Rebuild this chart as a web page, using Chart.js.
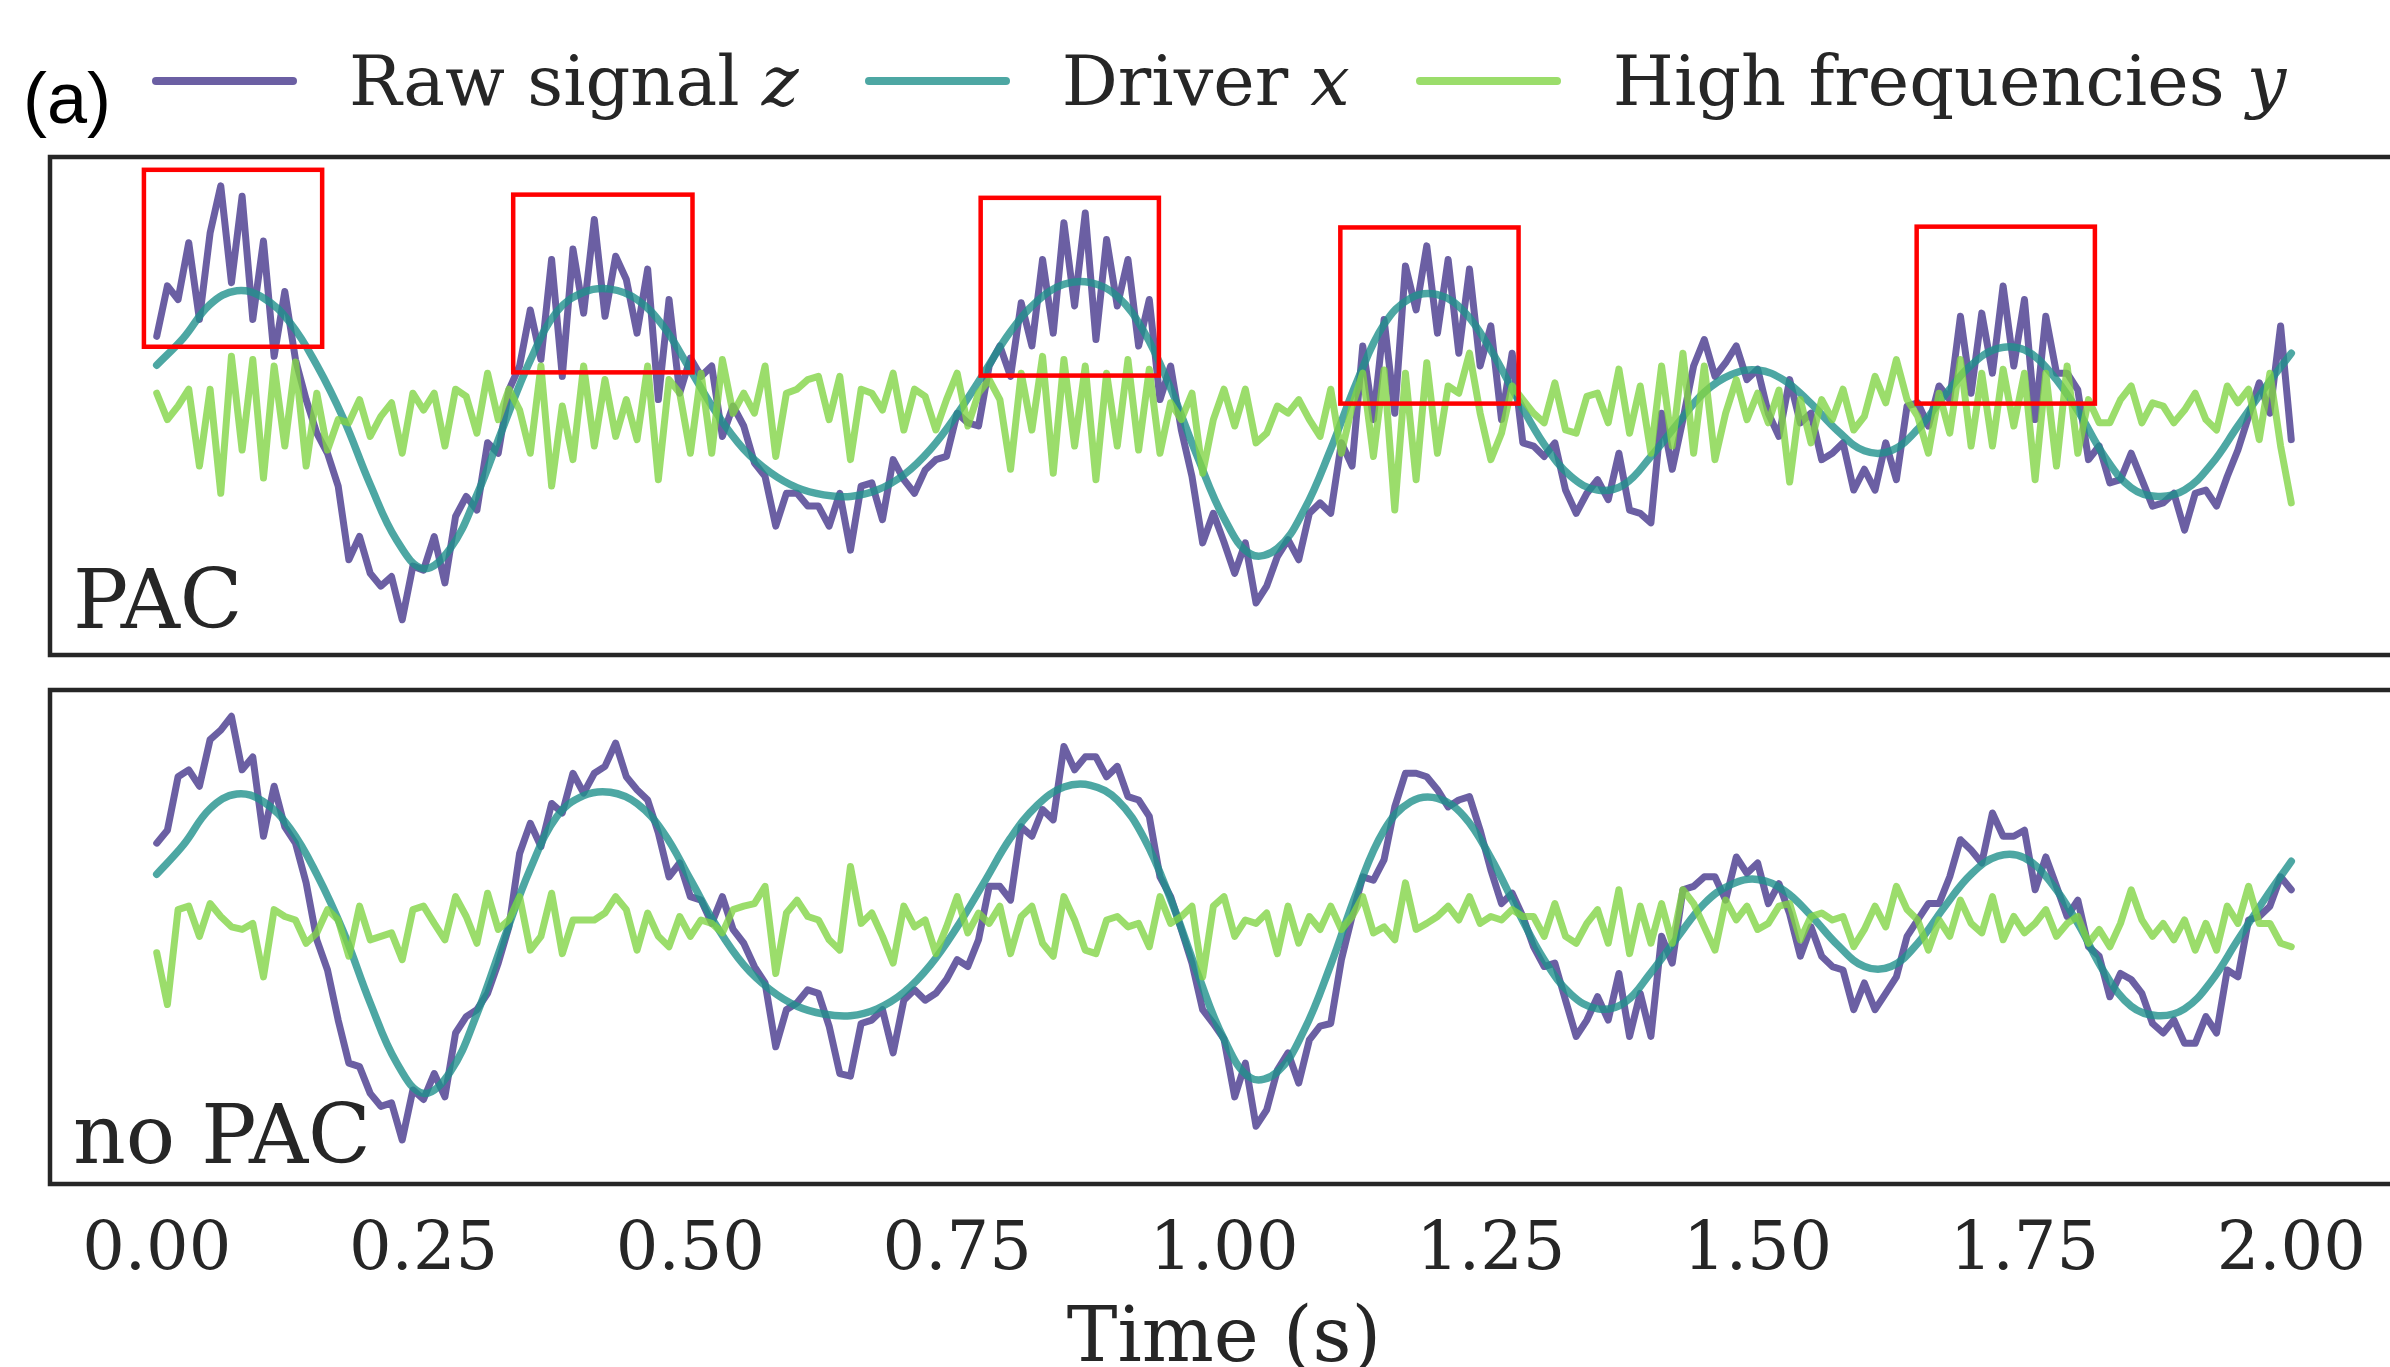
<!DOCTYPE html>
<html lang="en">
<head>
<meta charset="UTF-8">
<title>Raw signal, driver and high frequencies</title>
<script src="https://cdn.jsdelivr.net/npm/chart.js"></script>
<style>
  html, body { margin: 0; padding: 0; background: #fff; overflow: hidden; }
  body { width: 2390px; height: 1367px; position: relative; font-family: 'DejaVu Serif', serif; color: #262626; }
  canvas { position: absolute; }
  #chartTop { left: 43px; top: 150px; }
  #chartBottom { left: 43px; top: 683px; }
  .panel-tag { position: absolute; left: 23px; top: 62px; font: 72px/1 'Liberation Sans', Arial, sans-serif; color: #000; }
  #legend { position: absolute; left: 152px; top: 40px; display: flex; align-items: center; font-size: 70px; white-space: nowrap; }
  #legend .handle { display: inline-block; width: 145px; height: 8px; border-radius: 4px; margin-right: 52px; }
  #legend .text { margin-right: 66px; }
</style>
</head>
<body>
<div class="panel-tag">(a)</div>
<div id="legend"></div>
<canvas id="chartTop" width="2362" height="512"></canvas>
<canvas id="chartBottom" width="2362" height="720"></canvas>
<script>
// series names, math symbols and colours
const seriesNames = ['Raw signal', 'Driver', 'High frequencies'];
const seriesSymbols = ['z', 'x', 'y'];
const seriesColors = ['rgba(70, 55, 140, 0.8)', 'rgba(33, 145, 140, 0.8)', 'rgba(130, 212, 70, 0.8)'];

// x tick labels (s)
const timeTicks = [0, 0.25, 0.5, 0.75, 1.0, 1.25, 1.5, 1.75, 2.0];

// sampling grids: noisy signals every 10 ms, driver every 25 ms
const tFine = Array.from({ length: 201 }, (_, i) => i / 100);
const tDriver = Array.from({ length: 81 }, (_, i) => i / 40);

// slow driver x (same in both panels)
const driverX = [
  0.51, 0.85, 1.27, 1.44, 1.35, 1.04, 0.51, -0.16, -0.98, -1.68,
  -2.03, -1.78, -1.11, -0.25, 0.57, 1.18, 1.42, 1.46, 1.33, 0.99,
  0.45, -0.10, -0.54, -0.83, -1.02, -1.11, -1.13, -1.05, -0.86, -0.54,
  -0.10, 0.41, 0.93, 1.31, 1.52, 1.54, 1.37, 0.93, 0.22, -0.63,
  -1.40, -1.85, -1.78, -1.30, -0.54, 0.32, 1.02, 1.35, 1.39, 1.18,
  0.70, 0.09, -0.48, -0.88, -1.05, -0.98, -0.63, -0.22, 0.17, 0.39,
  0.45, 0.32, 0.03, -0.31, -0.56, -0.56, -0.29, 0.13, 0.51, 0.72,
  0.70, 0.41, -0.06, -0.63, -1.02, -1.13, -1.05, -0.73, -0.25, 0.22,
  0.66
];

// PAC panel: raw signal z
const rawPac = [
  0.87, 1.50, 1.33, 2.04, 1.08, 2.16, 2.75, 1.54, 2.62, 1.08,
  2.06, 0.62, 1.43, 0.58, 0.08, -0.34, -0.59, -1.00, -1.92, -1.63,
  -2.09, -2.25, -2.13, -2.67, -2.00, -2.05, -1.63, -2.21, -1.38, -1.13,
  -1.30, -0.46, -0.59, 0.20, 0.50, 1.20, 0.58, 1.83, 0.37, 1.96,
  1.16, 2.33, 1.12, 1.87, 1.58, 0.91, 1.71, 0.08, 1.33, 0.16,
  0.60,
  0.37, 0.50, -0.38, 0.00, -0.25, -0.71, -0.88, -1.50, -1.09, -1.09,
  -1.25, -1.25, -1.50, -1.09, -1.80, -1.00, -0.96, -1.42, -0.67, -0.92,
  -1.09, -0.80, -0.67, -0.63, -0.09, -0.21, -0.25, 0.50, 0.75, 0.37,
  1.29, 0.75, 1.83, 0.91, 2.29, 1.25, 2.41, 0.83, 2.08, 1.25,
  1.83, 0.75, 1.33, 0.08, 0.50, -0.30, -0.88, -1.71, -1.34, -1.70,
  -2.09, -1.71, -2.46, -2.25, -1.88, -1.67, -1.92, -1.34, -1.21, -1.34,
  -0.46, -0.75, 0.75, -0.17, 1.08, -0.09, 1.75, 1.20, 2.00, 0.91,
  1.83, 0.66, 1.71, 0.50, 1.00, -0.17, 0.66, -0.46, -0.50, -0.63,
  -0.46, -1.05, -1.34, -1.09, -0.92, -1.17, -0.59, -1.30, -1.34, -1.46,
  -0.09, -0.79, -0.17, 0.50, 0.83, 0.37, 0.54, 0.75, 0.33, 0.46,
  -0.09, -0.38, 0.33, -0.21, -0.09, -0.67, -0.59, -0.46, -1.05, -0.79,
  -1.05, -0.46, -0.92, 0.00, 0.04, -0.25, 0.25, 0.08, 1.12, 0.16,
  1.16, 0.41, 1.50, 0.50, 1.33, -0.17, 1.12, 0.41, 0.41, 0.20,
  -0.67, -0.50, -0.96, -0.92, -0.59, -0.92, -1.25, -1.21, -1.09, -1.55,
  -1.09, -1.05, -1.25, -0.88, -0.55, -0.13, 0.29, -0.09, 1.00, -0.42
];

// PAC panel: high frequencies y
const hfPac = [
  0.16, -0.17, 0.00, 0.21, -0.75, 0.21, -1.09, 0.62, -0.55, 0.58,
  -0.90, 0.50, -0.50, 0.55, -0.75, 0.16, -0.55, -0.17, -0.21, 0.08,
  -0.38, -0.13, 0.04, -0.59, 0.16, -0.05, 0.16, -0.50, 0.21, 0.12,
  -0.34, 0.41, -0.17, 0.21, -0.05, -0.59, 0.50, -1.00, 0.00, -0.67,
  0.50, -0.50, 0.33, -0.38, 0.08, -0.42, 0.50, -0.92, 0.33, 0.16,
  -0.59,
  0.41, -0.59, 0.58, -0.09, 0.16, -0.09, 0.50, -0.63, 0.16, 0.21,
  0.33, 0.37, -0.17, 0.37, -0.67, 0.21, 0.16, -0.05, 0.41, -0.30,
  0.21, 0.12, -0.30, 0.08, 0.41, -0.25, 0.16, 0.33, 0.08, -0.79,
  0.41, -0.30, 0.62, -0.84, 0.58, -0.50, 0.50, -0.92, 0.41, -0.50,
  0.58, -0.55, 0.46, -0.59, 0.04, -0.17, 0.16, -0.84, -0.17, 0.21,
  -0.25, 0.21, -0.46, -0.34, 0.00, -0.09, 0.08, -0.17, -0.38, 0.21,
  -0.59, 0.00, 0.41, -0.63, 0.45, -1.30, 0.41, -0.92, 0.54, -0.59,
  0.25, 0.16, 0.66, -0.09, -0.67, -0.34, 0.25, 0.08, -0.09, -0.21,
  0.29, -0.30, -0.34, 0.12, 0.16, -0.21, 0.46, -0.34, 0.25, -0.59,
  0.50, -0.50, 0.66, -0.59, 0.50, -0.67, -0.09, 0.33, -0.17, 0.16,
  -0.21, 0.20, -0.95, 0.08, -0.46, 0.08, -0.17, 0.21, -0.30, -0.13,
  0.37, 0.04, 0.58, 0.08, -0.13, -0.59, 0.16, -0.34, 0.58, -0.50,
  0.41, -0.50, 0.46, -0.25, 0.41, -0.92, 0.41, -0.75, 0.50, -0.59,
  0.08, -0.21, -0.21, 0.08, 0.25, -0.21, 0.04, 0.00, -0.21, -0.05,
  0.16, -0.17, -0.30, 0.25, 0.04, 0.21, -0.42, 0.41, -0.50, -1.21
];

// no-PAC panel: raw signal z
const rawNoPac = [
  0.87, 1.02, 1.64, 1.72, 1.53, 2.07, 2.18, 2.34, 1.72, 1.87,
  0.95, 1.53, 1.06, 0.87, 0.41, -0.25, -0.60, -1.18, -1.68, -1.72,
  -2.03, -2.18, -2.14, -2.57, -1.99, -2.10, -1.80, -2.07, -1.33, -1.14,
  -1.06, -0.87, -0.52, -0.10, 0.75, 1.10, 0.83, 1.33, 1.22, 1.68,
  1.45, 1.68, 1.76, 2.03, 1.64, 1.49, 1.37, 0.99, 0.48, 0.64,
  0.25,
  0.21, -0.06, 0.25, -0.13, -0.29, -0.56, -0.75, -1.49, -1.06, -0.98,
  -0.83, -0.87, -1.25, -1.80, -1.83, -1.22, -1.18, -1.06, -1.56, -0.95,
  -0.83, -0.95, -0.87, -0.71, -0.48, -0.56, -0.25, 0.37, 0.37, 0.21,
  1.06, 0.95, 1.26, 1.14, 1.99, 1.72, 1.87, 1.87, 1.64, 1.76,
  1.41, 1.37, 1.18, 0.48, 0.25, -0.13, -0.52, -1.06, -1.22, -1.40,
  -2.07, -1.68, -2.41, -2.22, -1.76, -1.56, -1.91, -1.41, -1.25, -1.22,
  -0.48, 0.02, 0.48, 0.44, 0.68, 1.29, 1.68, 1.68, 1.64, 1.49,
  1.29, 1.37, 1.41, 1.02, 0.56, 0.17, 0.29, 0.02, -0.33, -0.56,
  -0.52, -0.95, -1.37, -1.18, -0.91, -1.18, -0.64, -1.37, -0.87, -1.37,
  -0.21, -0.52, 0.33, 0.37, 0.48, 0.48, 0.21, 0.71, 0.52, 0.64,
  0.17, 0.40, 0.05, -0.44, -0.10, -0.44, -0.56, -0.60, -1.06, -0.75,
  -1.06, -0.87, -0.68, -0.21, -0.02, 0.17, 0.17, 0.48, 0.91, 0.79,
  0.64, 1.22, 0.95, 0.95, 1.02, 0.33, 0.71, 0.37, 0.02, 0.21,
  -0.33, -0.44, -0.91, -0.64, -0.71, -0.87, -1.22, -1.33, -1.18, -1.45,
  -1.45, -1.14, -1.33, -0.60, -0.68, -0.02, 0.02, 0.14, 0.48, 0.33
];

// no-PAC panel: high frequencies y
const hfNoPac = [
  -0.40, -1.00, 0.10, 0.14, -0.21, 0.17, 0.02, -0.10, -0.13, -0.06,
  -0.68, 0.10, 0.02, -0.02, -0.29, -0.17, 0.10, -0.02, -0.44, 0.14,
  -0.25, -0.21, -0.17, -0.48, 0.10, 0.14, -0.06, -0.25, 0.25, 0.02,
  -0.29, 0.29, -0.13, -0.02, 0.25, -0.37, -0.21, 0.29, -0.41, -0.02,
  -0.02, -0.02, 0.06, 0.25, 0.10, -0.37, 0.06, -0.21, -0.33, 0.02,
  -0.21,
  -0.02, -0.06, -0.17, 0.10, 0.14, 0.17, 0.37, -0.64, 0.06, 0.21,
  0.02, -0.02, -0.25, -0.37, 0.60, -0.06, 0.06, -0.21, -0.52, 0.14,
  -0.10, -0.02, -0.41, -0.10, 0.25, -0.17, 0.06, -0.06, 0.14, -0.41,
  0.02, 0.14, -0.29, -0.44, 0.25, -0.02, -0.37, -0.41, -0.02, 0.02,
  -0.10, -0.06, -0.33, 0.25, -0.06, 0.02, 0.14, -0.68, 0.14, 0.25,
  -0.21, -0.02, -0.06, 0.06, -0.41, 0.14, -0.29, 0.02, -0.13, 0.14,
  -0.13, 0.02, 0.25, -0.17, -0.10, -0.25, 0.41, -0.13, -0.06, 0.02,
  0.14, -0.02, 0.25, -0.06, 0.02, -0.02, 0.10, 0.02, 0.02, -0.21,
  0.17, -0.21, -0.29, -0.06, 0.10, -0.29, 0.33, -0.41, 0.14, -0.29,
  0.17, -0.29, 0.33, 0.17, -0.10, -0.37, 0.21, -0.02, 0.14, -0.13,
  -0.06, 0.14, 0.17, -0.25, 0.02, 0.06, -0.02, 0.02, -0.33, -0.13,
  0.14, -0.10, 0.37, 0.10, -0.02, -0.37, -0.02, -0.21, 0.21, -0.06,
  -0.17, 0.25, -0.25, 0.02, -0.17, -0.06, 0.10, -0.21, -0.06, 0.02,
  -0.29, -0.13, -0.33, -0.06, 0.33, -0.02, -0.21, -0.06, -0.25, -0.02,
  -0.37, -0.06, -0.37, 0.14, -0.06, 0.37, -0.06, -0.06, -0.29, -0.33
];

// highlighted bursts in the PAC panel: [t start, t end, y low, y high]
const pacBursts = [
  [-0.012, 0.155, 0.74, 2.95],
  [0.334, 0.502, 0.42, 2.64],
  [0.772, 0.939, 0.38, 2.60],
  [1.109, 1.276, 0.03, 2.23],
  [1.649, 1.816, 0.03, 2.24]
];

const ink = '#262626';

// legend row above the panels
document.getElementById('legend').innerHTML = seriesNames.map((name, i) =>
  `<span class="handle" style="background:${seriesColors[i]}"></span>` +
  `<span class="text">${name} <i>${seriesSymbols[i]}</i></span>`
).join('');

// frame, panel label and red burst boxes
const panelDecor = {
  id: 'panelDecor',
  afterDatasetsDraw(chart, args, opts) {
    const { ctx, chartArea: a, scales: { x, y } } = chart;
    ctx.save();
    ctx.strokeStyle = '#ff0000';
    ctx.lineWidth = 4.5;
    (opts.boxes || []).forEach(([t0, t1, lo, hi]) => {
      const left = x.getPixelForValue(t0);
      const right = x.getPixelForValue(t1);
      const top = y.getPixelForValue(hi);
      const bottom = y.getPixelForValue(lo);
      ctx.strokeRect(left, top, right - left, bottom - top);
    });
    ctx.fillStyle = ink;
    ctx.font = '82px "DejaVu Serif"';
    ctx.textBaseline = 'alphabetic';
    ctx.textAlign = 'left';
    ctx.fillText(opts.label, a.left + 23, a.bottom - opts.labelGap);
    ctx.strokeStyle = ink;
    ctx.lineWidth = 4.5;
    ctx.strokeRect(a.left, a.top, a.right - a.left, a.bottom - a.top);
    ctx.restore();
  }
};

function toPoints(times, values) {
  return values.map((v, i) => ({ x: times[i], y: v }));
}

function panelDatasets(raw, hf) {
  return [
    { label: seriesNames[0], data: toPoints(tFine, raw), borderColor: seriesColors[0], borderWidth: 7, order: 3, tension: 0 },
    { label: seriesNames[1], data: toPoints(tDriver, driverX), borderColor: seriesColors[1], borderWidth: 7.5, order: 2, tension: 0.4 },
    { label: seriesNames[2], data: toPoints(tFine, hf), borderColor: seriesColors[2], borderWidth: 7, order: 1, tension: 0 }
  ];
}

function panelOptions(yMin, yMax, withAxis, decor) {
  const xAxis = { type: 'linear', min: -0.1, max: 2.1, display: false };
  if (withAxis) {
    Object.assign(xAxis, {
      display: true,
      grid: { display: false, drawTicks: false },
      border: { display: false },
      afterBuildTicks: s => { s.ticks = timeTicks.map(v => ({ value: v })); },
      ticks: {
        font: { family: 'DejaVu Serif', size: 67 },
        color: ink,
        padding: 27,
        maxRotation: 0,
        autoSkip: false,
        callback: v => Number(v).toFixed(2)
      },
      title: {
        display: true,
        text: 'Time (s)',
        font: { family: 'DejaVu Serif', size: 76 },
        color: ink,
        padding: { top: 0, bottom: 16 }
      },
      afterFit: s => { s.height = 219; }
    });
  }
  return {
    responsive: false,
    animation: false,
    parsing: false,
    elements: { point: { radius: 0 }, line: { borderCapStyle: 'round', borderJoinStyle: 'round' } },
    layout: { padding: { left: 7, right: 7, top: 7, bottom: withAxis ? 0 : 7 } },
    scales: {
      x: xAxis,
      y: { display: false, min: yMin, max: yMax }
    },
    plugins: {
      legend: { display: false },
      tooltip: { enabled: false },
      panelDecor: decor
    }
  };
}

new Chart(document.getElementById('chartTop'), {
  type: 'line',
  data: { datasets: panelDatasets(rawPac, hfPac) },
  options: panelOptions(-3.11, 3.11, false, { label: 'PAC', labelGap: 27, boxes: pacBursts }),
  plugins: [panelDecor]
});

new Chart(document.getElementById('chartBottom'), {
  type: 'line',
  data: { datasets: panelDatasets(rawNoPac, hfNoPac) },
  options: panelOptions(-3.08, 2.645, true, { label: 'no PAC', labelGap: 21, boxes: [] }),
  plugins: [panelDecor]
});
</script>
</body>
</html>
